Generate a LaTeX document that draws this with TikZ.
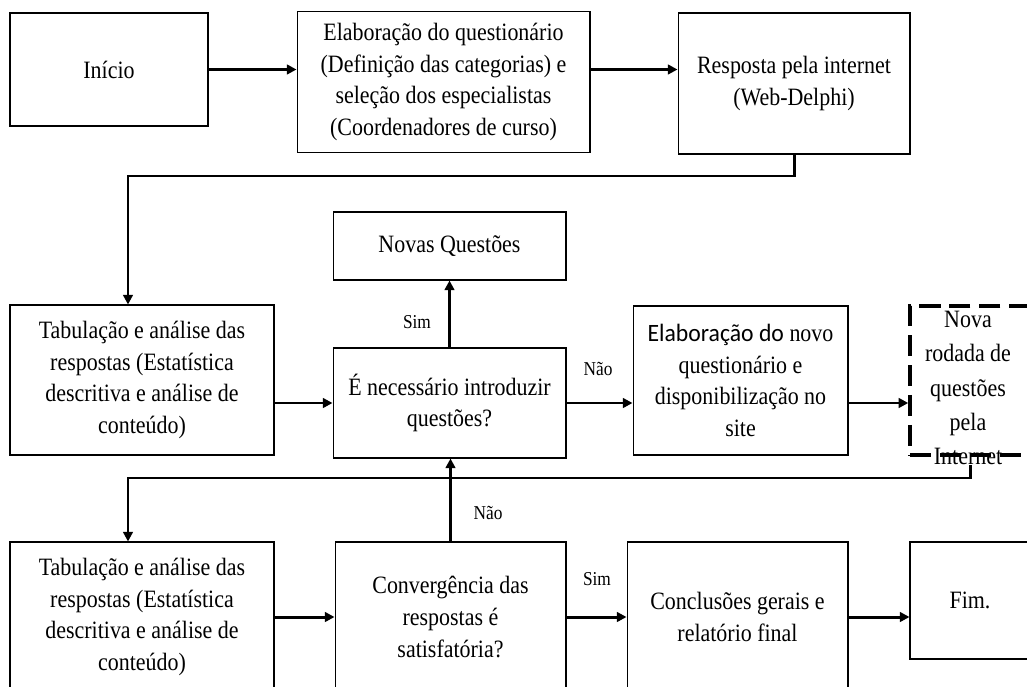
\documentclass[tikz,border=0pt]{standalone}
\usepackage{fontspec}
\setmainfont[FakeStretch=0.88]{Liberation Serif}
\newfontfamily\calibri[FakeStretch=0.95]{Carlito}
\usetikzlibrary{arrows.meta}

\tikzset{
    caixa/.style={draw, line width=0.6pt, align=center, inner sep=0pt, font=\fontsize{14.2}{18}\selectfont},
    seta/.style={line width=1.7pt, -{Triangle[length=5.5pt, width=5.5pt]}},
    rotulo/.style={inner sep=0pt, font=\fontsize{11.2}{13}\selectfont}
}

\begin{document}
\begin{tikzpicture}[x=0.02cm, y=-0.02cm]
    \useasboundingbox (0, 0) rectangle (1027, 686);
    \node [caixa, minimum width=3.96cm, minimum height=2.26cm] (inicio) at (109, 69.5) {Início};
    \node [caixa, minimum width=5.86cm, minimum height=2.82cm] (elab) at (443.5, 82) {Elaboração do questionário\\(Definição das categorias) e\\seleção dos especialistas\\(Coordenadores de curso)};
    \node [caixa, minimum width=4.64cm, minimum height=2.82cm] (resp) at (794, 83.5) {Resposta pela internet\\(Web-Delphi)};
    \node [caixa, minimum width=5.28cm, minimum height=3cm] (tab1) at (142, 380) {Tabulação e análise das\\respostas (Estatística\\descritiva e análise de\\conteúdo)};
    \node [caixa, minimum width=4.66cm, minimum height=1.36cm] (novas) at (449.5, 246) {Novas Questões};
    \node [caixa, minimum width=4.66cm, minimum height=2.2cm] (neces) at (449.5, 403) {É necessário introduzir\\questões?};
    \node [caixa, minimum width=4.3cm, minimum height=2.98cm] (novo) at (740.5, 380.5) {{\calibri Elaboração do} novo\\questionário e\\disponibilização no\\site};
    \node [caixa, dash pattern=on 12pt off 5pt, line width=2pt, minimum width=2.4cm, minimum height=2.98cm] (rodada) at (970, 380.5) {};
    \node [caixa, draw=none, font=\fontsize{14.2}{19.5}\selectfont] (rodadatxt) at (968, 388) {Nova\\rodada de\\questões\\pela\\Internet};
    \node [caixa, minimum width=5.28cm, minimum height=3cm] (tab2) at (142, 617) {Tabulação e análise das\\respostas (Estatística\\descritiva e análise de\\conteúdo)};
    \node [caixa, minimum width=4.62cm, minimum height=3cm] (conv) at (450.5, 617) {Convergência das\\respostas é\\satisfatória?};
    \node [caixa, minimum width=4.42cm, minimum height=3cm] (concl) at (737.5, 617) {Conclusões gerais e\\relatório final};
    \node [caixa, minimum width=2.4cm, minimum height=2.34cm] (fim) at (970, 600.5) {Fim.};
    \coordinate (k1) at (128, 176);
    \coordinate (k2) at (128, 478);
    \draw [seta] (inicio.east) -- (inicio.east -| elab.west);
    \draw [seta] (elab.east |- inicio.east) -- (resp.west |- inicio.east);
    \draw [seta] (resp.south) |- (k1) -- (k1 |- tab1.north);
    \draw [seta] (tab1.east |- neces.west) -- (neces.west);
    \draw [seta] (neces.north) -- (novas.south);
    \node [rotulo] (sim1) at (417, 322) {Sim};
    \draw [seta] (neces.east) -- (neces.east -| novo.west);
    \node [rotulo] (nao1) at (598, 369) {Não};
    \draw [seta] (novo.east |- neces.east) -- (rodada.west |- neces.east);
    \draw [seta] (rodadatxt.south -| rodada.south) |- (k2) -- (k2 |- tab2.north);
    \draw [seta] (conv.north) -- (conv.north |- neces.south);
    \node [rotulo] (nao2) at (488, 513) {Não};
    \draw [seta] (tab2.east) -- (conv.west);
    \draw [seta] (conv.east) -- (concl.west);
    \node [rotulo] (sim2) at (597, 579) {Sim};
    \draw [seta] (concl.east) -- (concl.east -| fim.west);
\end{tikzpicture}
\end{document}
